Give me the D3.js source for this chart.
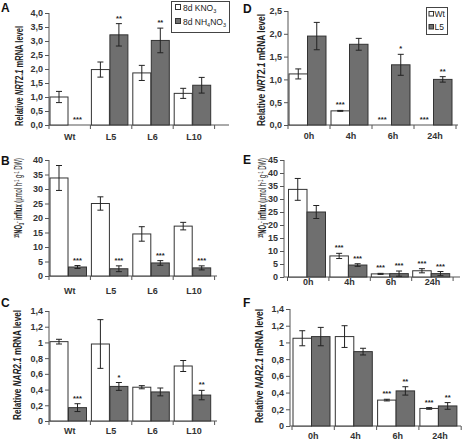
<!DOCTYPE html>
<html><head><meta charset="utf-8">
<script src="https://cdn.jsdelivr.net/npm/d3@7"></script>
<style>body{margin:0;background:#fff}svg{display:block;font-family:Arial,"Liberation Sans",sans-serif}</style>
</head><body>
<script>
// ---------- DATA ----------
const genotypes = ["Wt", "L5", "L6", "L10"];
const times = ["0h", "4h", "6h", "24h"];

// A: Relative NRT2.1 mRNA level (8d KNO3 vs 8d NH4NO3)
const aKNO3 = [1.0, 1.98, 1.86, 1.13];
const aKNO3Err = [0.2, 0.27, 0.27, 0.18];
const aNH4NO3 = [0, 3.22, 3.02, 1.42];
const aNH4NO3Err = [0, 0.4, 0.44, 0.28];
const aSig = ["***", "**", "**", ""];

// B: 15NO3- influx
const bKNO3 = [33.8, 25.0, 14.5, 17.2];
const bKNO3Err = [4.3, 2.3, 2.5, 1.3];
const bNH4NO3 = [3.1, 2.5, 4.5, 2.8];
const bNH4NO3Err = [0.5, 1.0, 0.8, 0.7];
const bSig = ["***", "***", "***", "***"];

// C: Relative NAR2.1 mRNA level
const cKNO3 = [1.01, 0.98, 0.43, 0.70];
const cKNO3Err = [0.03, 0.31, 0.02, 0.07];
const cNH4NO3 = [0.17, 0.44, 0.37, 0.33];
const cNH4NO3Err = [0.05, 0.05, 0.05, 0.06];
const cSig = ["***", "*", "", "**"];

// D: Relative NRT2.1 mRNA level over time (Wt vs L5)
const dWt = [1.12, 0.31, 0, 0];
const dWtErr = [0.11, 0.01, 0, 0];
const dWtSig = ["", "***", "***", "***"];
const dL5 = [1.95, 1.77, 1.32, 1.0];
const dL5Err = [0.3, 0.13, 0.23, 0.06];
const dL5Sig = ["", "", "*", "**"];

// E: 15NO3- influx over time
const eWt = [33.7, 8.1, 1.2, 2.4];
const eWtErr = [4.2, 1.0, 0.2, 0.8];
const eWtSig = ["", "***", "***", "***"];
const eL5 = [25.0, 4.6, 1.3, 1.3];
const eL5Err = [2.5, 0.5, 1.0, 0.8];
const eL5Sig = ["", "***", "***", "***"];

// F: Relative NAR2.1 mRNA level over time
const fWt = [1.05, 1.07, 0.31, 0.21];
const fWtErr = [0.09, 0.13, 0.01, 0.01];
const fWtSig = ["", "", "***", "***"];
const fL5 = [1.07, 0.89, 0.42, 0.24];
const fL5Err = [0.11, 0.04, 0.05, 0.04];
const fL5Sig = ["", "", "**", "**"];

// tick values
const ticksA = [0, 0.5, 1, 1.5, 2, 2.5, 3, 3.5, 4];
const ticksB = [0, 5, 10, 15, 20, 25, 30, 35, 40];
const ticksC = [0, 0.2, 0.4, 0.6, 0.8, 1, 1.2, 1.4];
const ticksD = [0, 0.5, 1, 1.5, 2, 2.5];
const ticksE = [0, 5, 10, 15, 20, 25, 30, 35, 40, 45];
const ticksF = [0, 0.2, 0.4, 0.6, 0.8, 1, 1.2, 1.4];

// ---------- DRAW ----------
const W = 462, H = 441;
const svg = d3.select("body").append("svg").attr("width", W).attr("height", H);
const WHITE = "#ffffff", GRAY = "#6f6f6f", INK = "#222";

const fmt1 = d => d3.format(".1f")(d).replace(".", ",");
const fmtC = d => (d === 0 ? "0" : d === 1 ? "1" : d3.format(".1f")(d).replace(".", ","));
const fmtI = d => String(d);

function panel(cfg) {
  const g = svg.append("g");
  const y = d3.scaleLinear().domain([0, cfg.ymax]).range([cfg.y0, cfg.y1]);
  const x = d3.scaleBand().domain(cfg.cats).range([cfg.bx0, cfg.bx0 + cfg.step * cfg.cats.length]);

  // y axis
  const ya = g.append("g").attr("transform", `translate(${cfg.ax},0)`)
    .call(d3.axisLeft(y).tickValues(cfg.ticks).tickFormat(cfg.fmt).tickSize(4).tickPadding(2));
  ya.select(".domain").attr("stroke", "#555").attr("d", `M0,${cfg.y0}V${cfg.y1}`);
  ya.selectAll(".tick line").attr("stroke", "#555");
  ya.selectAll(".tick text").attr("font-size", 9).attr("font-weight", "bold")
    .attr("fill", "#333").attr("font-family", "Arial, 'Liberation Sans', sans-serif");

  // x axis
  g.append("line").attr("x1", cfg.ax).attr("x2", cfg.axEnd).attr("y1", cfg.y0).attr("y2", cfg.y0)
    .attr("stroke", "#555");
  const tickXs = cfg.cats.map(c => x(c)).concat([x(cfg.cats[cfg.cats.length - 1]) + cfg.step]);
  g.selectAll(".xt").data(tickXs).join("line").attr("x1", d => d).attr("x2", d => d)
    .attr("y1", cfg.y0).attr("y2", cfg.y0 + 4).attr("stroke", "#555");
  g.selectAll(".xl").data(cfg.cats).join("text")
    .attr("x", d => x(d) + cfg.step / 2).attr("y", cfg.labelY)
    .attr("text-anchor", "middle").attr("font-size", 9).attr("font-weight", "bold").attr("fill", "#333")
    .text(d => d);

  // bars
  cfg.series.forEach((s, si) => {
    const off = cfg.offsets[si];
    cfg.cats.forEach((c, i) => {
      const v = s.values[i], e = s.err[i];
      const bx = x(c) + off;
      const cx = bx + cfg.barW / 2;
      if (v > 0) {
        g.append("rect").attr("x", bx).attr("y", y(v)).attr("width", cfg.barW).attr("height", y(0) - y(v))
          .attr("fill", s.fill).attr("stroke", "#333").attr("stroke-width", 1);
      }
      if (e > 0) {
        const top = y(v + e), bot = y(Math.max(0, v - e));
        g.append("line").attr("x1", cx).attr("x2", cx).attr("y1", top).attr("y2", bot).attr("stroke", INK);
        g.append("line").attr("x1", cx - 3).attr("x2", cx + 3).attr("y1", top).attr("y2", top).attr("stroke", INK);
        g.append("line").attr("x1", cx - 3).attr("x2", cx + 3).attr("y1", bot).attr("y2", bot).attr("stroke", INK);
      }
      const sig = s.sig[i];
      if (sig) {
        g.append("text").attr("x", cx).attr("y", y(v + e) - 3)
          .attr("text-anchor", "middle").attr("font-size", 7.5).attr("font-weight", "bold").attr("fill", "#222")
          .text(sig);
      }
    });
  });

  // panel letter
  svg.append("text").attr("x", cfg.letterX).attr("y", cfg.letterY).attr("font-size", 12)
    .attr("font-weight", "bold").attr("fill", "#111").text(cfg.letter);

  // y title
  const t = svg.append("text").attr("transform", `translate(${cfg.titleX},${cfg.titleY}) rotate(-90)`)
    .attr("text-anchor", "middle").attr("font-size", 10).attr("font-weight", "bold").attr("fill", "#222")
    .attr("textLength", cfg.titleLen).attr("lengthAdjust", "spacingAndGlyphs");
  cfg.title(t);
}

function nrtTitle(gene) {
  return t => {
    t.append("tspan").text("Relative ");
    t.append("tspan").attr("font-style", "italic").text(gene);
    t.append("tspan").text(" mRNA level");
  };
}
function influxTitle(t) {
  t.append("tspan").attr("font-size", 6.5).attr("dy", -3).text("15");
  t.append("tspan").attr("dy", 3).text("NO");
  t.append("tspan").attr("font-size", 6.5).attr("dy", 2).text("3");
  t.append("tspan").attr("font-size", 6.5).attr("dy", -5).text("-");
  t.append("tspan").attr("dy", 3).text(" influx ");
  t.append("tspan").attr("font-weight", "normal").text("(µmol h");
  t.append("tspan").attr("font-weight", "normal").attr("font-size", 6.5).attr("dy", -3).text("-1");
  t.append("tspan").attr("font-weight", "normal").attr("dy", 3).text(" g");
  t.append("tspan").attr("font-weight", "normal").attr("font-size", 6.5).attr("dy", -3).text("-1");
  t.append("tspan").attr("font-weight", "normal").attr("dy", 3).text(" DW)");
}

const left = { ax: 49, bx0: 49, step: 41.4, barW: 18, offsets: [1, 19.5], cats: genotypes };

panel(Object.assign({}, left, {
  letter: "A", letterX: 1, letterY: 12,
  y0: 125, y1: 13, ymax: 4, ticks: ticksA, fmt: fmt1, axEnd: 229, labelY: 140,
  series: [{ values: aKNO3, err: aKNO3Err, fill: WHITE, sig: ["", "", "", ""] },
           { values: aNH4NO3, err: aNH4NO3Err, fill: GRAY, sig: aSig }],
  titleX: 23, titleY: 76, titleLen: 100, title: nrtTitle("NRT2.1")
}));
panel(Object.assign({}, left, {
  letter: "B", letterX: 1, letterY: 165,
  y0: 276, y1: 160, ymax: 40, ticks: ticksB, fmt: fmtI, axEnd: 217, labelY: 294,
  series: [{ values: bKNO3, err: bKNO3Err, fill: WHITE, sig: ["", "", "", ""] },
           { values: bNH4NO3, err: bNH4NO3Err, fill: GRAY, sig: bSig }],
  titleX: 22, titleY: 198, titleLen: 80, title: influxTitle
}));
panel(Object.assign({}, left, {
  letter: "C", letterX: 1, letterY: 307,
  y0: 421, y1: 311, ymax: 1.4, ticks: ticksC, fmt: fmtC, axEnd: 217, labelY: 434,
  series: [{ values: cKNO3, err: cKNO3Err, fill: WHITE, sig: ["", "", "", ""] },
           { values: cNH4NO3, err: cNH4NO3Err, fill: GRAY, sig: cSig }],
  titleX: 21, titleY: 365, titleLen: 110, title: nrtTitle("NAR2.1")
}));
panel({
  letter: "D", letterX: 243, letterY: 13, cats: times,
  ax: 288, bx0: 288, step: 42, barW: 18.5, offsets: [1, 19.5],
  y0: 125, y1: 11, ymax: 2.5, ticks: ticksD, fmt: fmt1, axEnd: 458, labelY: 139,
  series: [{ values: dWt, err: dWtErr, fill: WHITE, sig: dWtSig },
           { values: dL5, err: dL5Err, fill: GRAY, sig: dL5Sig }],
  titleX: 265, titleY: 70, titleLen: 112, title: nrtTitle("NRT2.1")
});
panel({
  letter: "E", letterX: 243, letterY: 164, cats: times,
  ax: 284, bx0: 287.5, step: 41.4, barW: 18.5, offsets: [1, 19.5],
  y0: 277, y1: 160, ymax: 45, ticks: ticksE, fmt: fmtI, axEnd: 460, labelY: 285,
  series: [{ values: eWt, err: eWtErr, fill: WHITE, sig: eWtSig },
           { values: eL5, err: eL5Err, fill: GRAY, sig: eL5Sig }],
  titleX: 266, titleY: 198, titleLen: 80, title: influxTitle
});
panel({
  letter: "F", letterX: 243, letterY: 307, cats: times,
  ax: 290, bx0: 292, step: 42.3, barW: 18.5, offsets: [1, 19.5],
  y0: 426, y1: 309, ymax: 1.4, ticks: ticksF, fmt: fmtC, axEnd: 461, labelY: 439,
  series: [{ values: fWt, err: fWtErr, fill: WHITE, sig: fWtSig },
           { values: fL5, err: fL5Err, fill: GRAY, sig: fL5Sig }],
  titleX: 263, titleY: 366, titleLen: 114, title: nrtTitle("NAR2.1")
});

// ---------- LEGENDS ----------
const legA = svg.append("g");
legA.append("rect").attr("x", 171.5).attr("y", 1.5).attr("width", 58).attr("height", 31)
  .attr("fill", "#fff").attr("stroke", "#444");
[["8d KNO", "3", null, WHITE, 11], ["8d NH", "4", "NO|3", GRAY, 25]].forEach(([a, s1, rest, fill, yy]) => {
  legA.append("rect").attr("x", 175.5).attr("y", yy - 6.5).attr("width", 5).attr("height", 5)
    .attr("fill", fill).attr("stroke", "#333");
  const t = legA.append("text").attr("x", 183).attr("y", yy).attr("font-size", 8.5).attr("fill", "#222");
  t.append("tspan").text(a);
  t.append("tspan").attr("font-size", 5.5).attr("dy", 2).text(s1);
  if (rest) {
    const [n, s2] = rest.split("|");
    t.append("tspan").attr("dy", -2).text(n);
    t.append("tspan").attr("font-size", 5.5).attr("dy", 2).text(s2);
  }
});
const legD = svg.append("g");
legD.append("rect").attr("x", 426.5).attr("y", 7.5).attr("width", 21).attr("height", 27)
  .attr("fill", "#fff").attr("stroke", "#444");
[["Wt", WHITE, 17], ["L5", GRAY, 30]].forEach(([lab, fill, yy]) => {
  legD.append("rect").attr("x", 429).attr("y", yy - 5.5).attr("width", 4.5).attr("height", 4.5)
    .attr("fill", fill).attr("stroke", "#333");
  legD.append("text").attr("x", 434.5).attr("y", yy).attr("font-size", 8.5).attr("fill", "#222").text(lab);
});
</script>
</body></html>
